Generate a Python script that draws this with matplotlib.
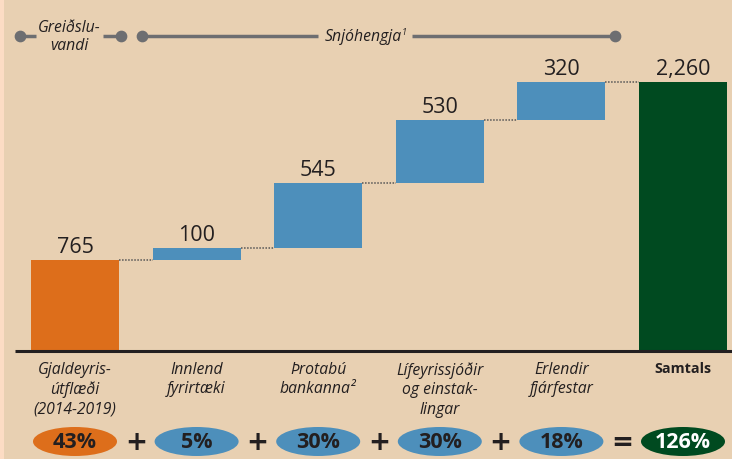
import matplotlib
matplotlib.use("Agg")
import matplotlib.pyplot as plt
from matplotlib.patches import Ellipse, Rectangle

# ---- data ----
categories = ["Gjaldeyris-\nútflæði\n(2014-2019)", "Innlend\nfyrirtæki", "Þrotabú\nbankanna²",
              "Lífeyrissjóðir\nog einstak-\nlingar", "Erlendir\nfjárfestar", "Samtals"]
increments = [765, 100, 545, 530, 320]
total = 2260
value_labels = ["765", "100", "545", "530", "320", "2,260"]
shares = ["43%", "5%", "30%", "30%", "18%", "126%"]
operators = ["+", "+", "+", "+", "="]

BG = "#e8d0b2"
ORANGE = "#dd6e1b"
BLUE = "#4d8fbb"
GREEN = "#004a20"
DARK = "#231f20"
GREY = "#6d6e71"

fig = plt.figure(figsize=(7.32, 4.60), dpi=100)
fig.patch.set_facecolor(BG)
fig.patches.append(Rectangle((0, 0), 4 / 732, 1, transform=fig.transFigure,
                             facecolor="#fcdcc4", edgecolor="none", zorder=0))
ax = fig.add_axes([0, 0, 1, 1])
ax.set_facecolor("none")
ax.axis("off")

px_x = 121.6            # pixels per category
upp = 8.417             # data units per pixel (vertical)
base_px = 351.5
ax.set_xlim(-75 / px_x, (732 - 75) / px_x)
ax.set_ylim(-(460 - base_px) * upp, base_px * upp)

def ypx(p):  # pixel row (from top) -> data y
    return (base_px - p) * upp

def xpx(p):
    return (p - 75) / px_x

width = 88 / px_x
n = len(categories)
bottoms = []
acc = 0
for v in increments:
    bottoms.append(acc)
    acc += v
heights = increments + [total]
bottoms = bottoms + [0]
colors = [ORANGE] + [BLUE] * (len(increments) - 1) + [GREEN]
xs = list(range(n))
ax.bar(xs, heights, width=width, bottom=bottoms, color=colors, zorder=2)

# connectors
tops = [b + h for b, h in zip(bottoms, heights)]
for i in range(n - 1):
    ax.plot([i + width / 2, i + 1 - width / 2], [tops[i], tops[i]],
            color="#555555", lw=1.1, ls=(0, (1, 1)), zorder=1)

# value labels
for i in range(n):
    ax.text(i, tops[i] + 3 * upp, value_labels[i], ha="center", va="bottom",
            fontsize=15.5, color=DARK, family="Open Sans")

# baseline
ax.plot([xpx(15), xpx(732)], [0, 0], color=DARK, lw=2.2, solid_capstyle="butt", zorder=3)

# category labels
for i in range(n):
    if i == n - 1:
        ax.text(i, ypx(362), categories[i], ha="center", va="top", fontsize=10.3,
                color=DARK, family="Open Sans", fontweight="bold", linespacing=1.28)
    else:
        ax.text(i, ypx(362), categories[i], ha="center", va="top", fontsize=11.3,
                color=DARK, family="Open Sans", style="italic", linespacing=1.28)

# share ellipses
ell_colors = [ORANGE] + [BLUE] * (len(increments) - 1) + [GREEN]
for i in range(n):
    ax.add_patch(Ellipse((i, ypx(442.5)), 84 / px_x, 29 * upp, facecolor=ell_colors[i],
                         edgecolor="none", zorder=2))
    ax.text(i, ypx(443), shares[i], ha="center", va="center", fontsize=15.5,
            fontweight="bold", color="white" if i == n - 1 else DARK,
            family="Open Sans", zorder=3)
for i, op in enumerate(operators):
    ax.text(i + 0.5, ypx(443), op, ha="center", va="center", fontsize=19,
            fontweight="bold", color=DARK, family="DejaVu Sans")

# top brackets
yb = ypx(37)
lc = dict(color=GREY, lw=2.5, solid_capstyle="butt", zorder=2)
ax.plot([xpx(20), xpx(36)], [yb, yb], **lc)
ax.plot([xpx(103), xpx(121)], [yb, yb], **lc)
ax.plot([xpx(142), xpx(318)], [yb, yb], **lc)
ax.plot([xpx(412), xpx(615)], [yb, yb], **lc)
ax.scatter([xpx(20), xpx(121), xpx(142), xpx(615)], [yb] * 4, s=55, color=GREY, zorder=3)
ax.text(xpx(69), yb, "Greiðslu-\nvandi", ha="center", va="center", fontsize=11.3,
        style="italic", color=DARK, family="Open Sans", linespacing=1.15)
ax.text(xpx(363), yb, "Snjóhengja", ha="center", va="center", fontsize=11.3,
        style="italic", color=DARK, family="Open Sans")
ax.text(xpx(402), ypx(33), "1", ha="left", va="center", fontsize=6.5,
        style="italic", color=DARK, family="Open Sans")

fig.savefig("out.png", dpi=100, facecolor=BG)
